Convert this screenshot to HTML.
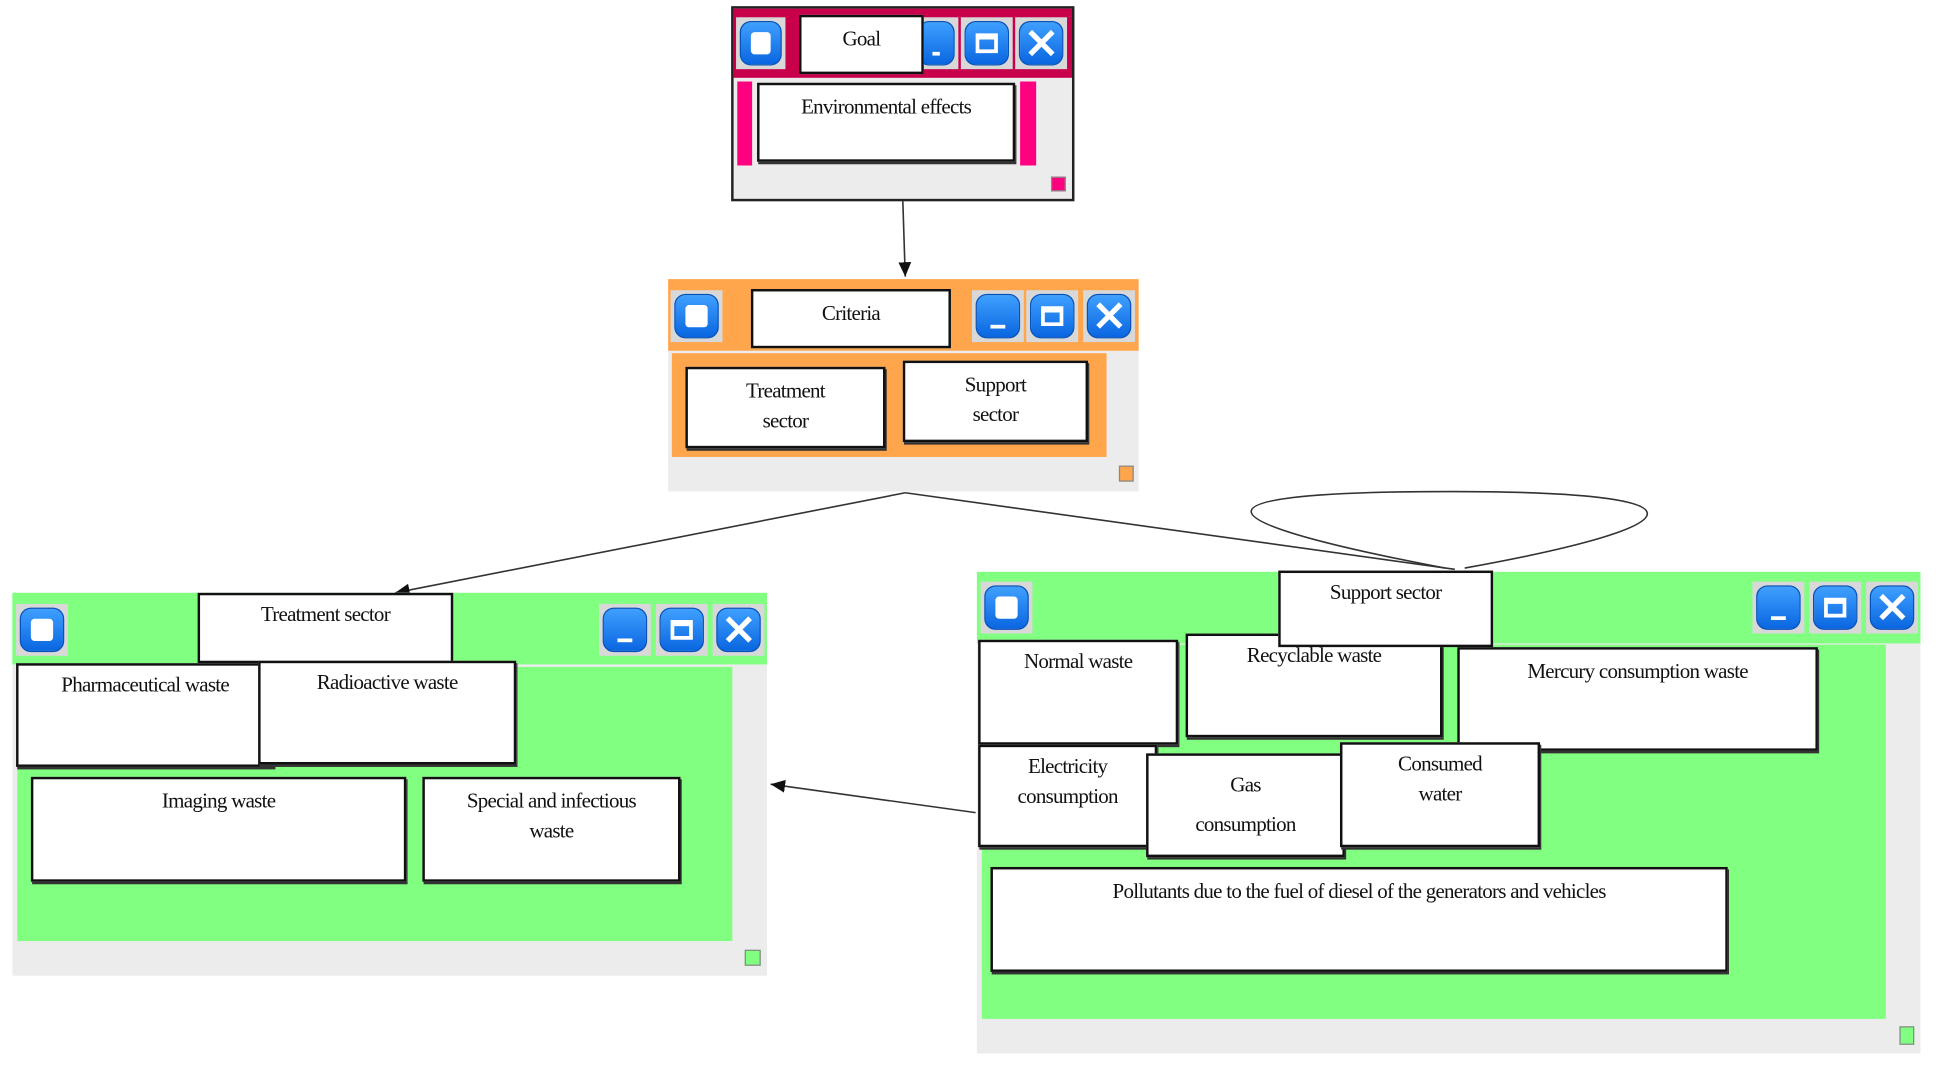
<!DOCTYPE html>
<html><head><meta charset="utf-8"><style>
html,body{margin:0;padding:0;background:#fff;overflow:hidden;width:1936px;height:1072px}
#s{position:absolute;left:0;top:0;width:1568px;height:868px;transform:scale(1.235,1.235);transform-origin:0 0;font-family:"Liberation Serif",serif;font-size:17px;letter-spacing:-0.6px;color:#111}
.a{position:absolute;box-sizing:border-box}
.bx{position:absolute;box-sizing:border-box;background:#fff;border:2px solid #111;text-align:center;padding-top:6px;line-height:24px;box-shadow:1px 2px 0 #333}
.btn{position:absolute;box-sizing:border-box;width:42px;height:42px;background:#d8d8d8;padding:3px}
.btn i{display:block;width:100%;height:100%;border-radius:9px;background:linear-gradient(#3fa0ff,#0a66e0);position:relative;border:1px solid #0752b8;box-sizing:border-box}
.sq i:after{content:"";position:absolute;left:8px;top:8px;right:8px;bottom:8px;background:#fff;border-radius:3px}
.mn i:after{content:"";position:absolute;left:11px;right:11px;bottom:7px;height:3px;background:#fff}
.mx i:after{content:"";position:absolute;left:8px;top:9px;right:8px;bottom:9px;border:3px solid #fff;border-top-width:5px;box-sizing:border-box}
.cl i:after{content:"×";position:absolute;left:0;right:0;top:-4px;text-align:center;color:#fff;font:bold 36px "DejaVu Sans",sans-serif}
</style></head><body><div id="s">

<svg class="a" style="left:0;top:0" width="1568" height="868">
<defs><marker id="ar" markerWidth="10" markerHeight="10" refX="9" refY="5" orient="auto"><path d="M0,1 L9,5 L0,9z" fill="#111"/></marker></defs>
<g stroke="#333" stroke-width="1.3" fill="none">
<line x1="731" y1="162" x2="733" y2="224" marker-end="url(#ar)"/>
<line x1="733" y1="399" x2="320" y2="480" marker-end="url(#ar)"/>
<line x1="733" y1="399" x2="1178" y2="461"/>
<path d="M1170,460 C960,420 960,398 1175,398 C1390,398 1380,425 1186,460"/>
<line x1="790" y1="658" x2="624" y2="635" marker-end="url(#ar)"/>
</g></svg>

<!-- Goal -->
<div class="a" style="left:592px;top:5px;width:278px;height:158px;border:2px solid #222;background:#ececec"></div>
<div class="a" style="left:594px;top:7px;width:274px;height:56px;background:#c8004c"></div>
<div class="btn sq" style="left:596px;top:14px;width:40px"><i></i></div>
<div class="btn mn" style="left:740px;top:14px;width:36px"><i></i></div>
<div class="btn mx" style="left:778px;top:14px"><i></i></div>
<div class="btn cl" style="left:822px;top:14px"><i></i></div>
<div class="bx" style="left:647px;top:12px;width:101px;height:48px;padding-top:6px;box-shadow:none">Goal</div>
<div class="a" style="left:597px;top:66px;width:242px;height:68px;background:#ff0080"></div>
<div class="a" style="left:609px;top:66px;width:217px;height:68px;background:#ececec"></div>
<div class="bx" style="left:613px;top:67px;width:209px;height:64px">Environmental effects</div>
<div class="a" style="left:851px;top:143px;width:12px;height:12px;background:#ff0080;border:1px solid #888"></div>

<!-- Criteria -->
<div class="a" style="left:541px;top:226px;width:381px;height:172px;background:#ececec"></div>
<div class="a" style="left:541px;top:226px;width:381px;height:58px;background:#ffa64d"></div>
<div class="a" style="left:544px;top:286px;width:352px;height:84px;background:#ffa64d"></div>
<div class="btn sq" style="left:543px;top:235px"><i></i></div>
<div class="bx" style="left:608px;top:234px;width:162px;height:48px;box-shadow:none">Criteria</div>
<div class="btn mn" style="left:787px;top:235px"><i></i></div>
<div class="btn mx" style="left:831px;top:235px"><i></i></div>
<div class="btn cl" style="left:877px;top:235px"><i></i></div>
<div class="bx" style="left:555px;top:297px;width:162px;height:66px;padding-top:6px">Treatment<br>sector</div>
<div class="bx" style="left:731px;top:292px;width:150px;height:66px;padding-top:6px">Support<br>sector</div>
<div class="a" style="left:906px;top:377px;width:12px;height:13px;background:#ffa64d;border:1px solid #888"></div>

<!-- Treatment sector window -->
<div class="a" style="left:10px;top:480px;width:611px;height:310px;background:#ececec"></div>
<div class="a" style="left:10px;top:480px;width:611px;height:58px;background:#80ff80"></div>
<div class="a" style="left:14px;top:540px;width:579px;height:222px;background:#80ff80"></div>
<div class="btn sq" style="left:13px;top:489px"><i></i></div>
<div class="btn mn" style="left:485px;top:489px"><i></i></div>
<div class="btn mx" style="left:531px;top:489px"><i></i></div>
<div class="btn cl" style="left:577px;top:489px"><i></i></div>
<div class="bx" style="left:160px;top:480px;width:207px;height:57px;padding-top:4px;box-shadow:none">Treatment sector</div>
<div class="bx" style="left:13px;top:537px;width:209px;height:84px;padding-top:4px">Pharmaceutical waste</div>
<div class="bx" style="left:209px;top:535px;width:209px;height:84px;padding-top:4px">Radioactive waste</div>
<div class="bx" style="left:25px;top:629px;width:304px;height:85px;padding-top:6px">Imaging waste</div>
<div class="bx" style="left:342px;top:629px;width:209px;height:85px;padding-top:6px">Special and infectious<br>waste</div>
<div class="a" style="left:603px;top:769px;width:13px;height:13px;background:#80ff80;border:1px solid #888"></div>

<!-- Support sector window -->
<div class="a" style="left:791px;top:463px;width:764px;height:390px;background:#ececec"></div>
<div class="a" style="left:791px;top:463px;width:764px;height:58px;background:#80ff80"></div>
<div class="a" style="left:795px;top:522px;width:732px;height:303px;background:#80ff80"></div>
<div class="btn sq" style="left:794px;top:471px"><i></i></div>
<div class="btn mn" style="left:1419px;top:471px"><i></i></div>
<div class="btn mx" style="left:1465px;top:471px"><i></i></div>
<div class="btn cl" style="left:1511px;top:471px"><i></i></div>
<div class="bx" style="left:792px;top:518px;width:162px;height:85px;padding-top:4px">Normal waste</div>
<div class="bx" style="left:960px;top:513px;width:208px;height:84px;padding-top:4px">Recyclable waste</div>
<div class="bx" style="left:1035px;top:462px;width:174px;height:62px;padding-top:4px;box-shadow:none">Support sector</div>
<div class="bx" style="left:1180px;top:524px;width:292px;height:84px;padding-top:6px">Mercury consumption waste</div>
<div class="bx" style="left:792px;top:603px;width:145px;height:83px;padding-top:4px">Electricity<br>consumption</div>
<div class="bx" style="left:928px;top:610px;width:161px;height:84px;padding-top:8px;line-height:32px">Gas<br>consumption</div>
<div class="bx" style="left:1085px;top:601px;width:162px;height:85px;padding-top:4px">Consumed<br>water</div>
<div class="bx" style="left:802px;top:702px;width:597px;height:85px;padding-top:6px">Pollutants due to the fuel of diesel of the generators and vehicles</div>
<div class="a" style="left:1538px;top:831px;width:12px;height:15px;background:#80ff80;border:1px solid #888"></div>

</div></body></html>
